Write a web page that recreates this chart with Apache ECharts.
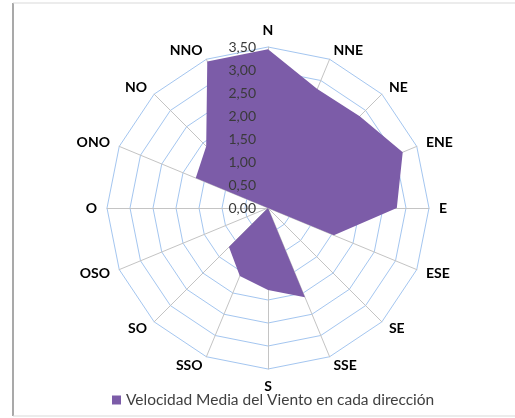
<!DOCTYPE html>
<html>
<head>
<meta charset="utf-8">
<script src="https://cdn.jsdelivr.net/npm/echarts@6/dist/echarts.min.js"></script>
<style>
html,body{margin:0;padding:0;background:#fff;}
#main{width:515px;height:418px;}
</style>
</head>
<body>
<div id="main"></div>
<script>
// direcciones en orden de la brújula (sentido horario desde N)
var direcciones = ["N","NNE","NE","ENE","E","ESE","SE","SSE","S","SSO","SO","OSO","O","ONO","NO","NNO"];
var velocidad = [3.45,2.80,2.82,3.17,2.80,1.55,0,2.10,1.78,1.60,1.20,0,0,1.70,1.90,3.45];
var serieNombre = "Velocidad Media del Viento en cada dirección";
var escalaMax = 3.5;

// el radar de echarts va en sentido antihorario, se invierte el orden
var orden = [0];
for(var i=direcciones.length-1;i>0;i--){ orden.push(i); }
var indicadores = [];
var indicadoresEtiq = [];
var valores = [];
for(var k of orden){
	indicadores.push({name:direcciones[k],min:0,max:escalaMax});
	indicadoresEtiq.push({name:'',min:0,max:escalaMax});
	valores.push(velocidad[k]);
}
indicadoresEtiq[0].axisLabel = {show:true};

var myChart = echarts.init(document.getElementById('main'));
var option = {
	backgroundColor:'#fff',
	textStyle:{fontFamily:'Lato, "Open Sans", sans-serif'},
	graphic:[
		{type:'line',shape:{x1:13,y1:3,x2:13,y2:416},style:{stroke:'#8c8c8c',lineWidth:1.5}},
		{type:'line',shape:{x1:13,y1:3,x2:515,y2:3},style:{stroke:'#d9d9d9',lineWidth:1}},
		{type:'line',shape:{x1:13,y1:416,x2:515,y2:416},style:{stroke:'#d9d9d9',lineWidth:1}}
	],
	legend:{
		bottom:5,
		left:107,
		icon:'rect',
		itemWidth:9,
		itemHeight:9,
		itemGap:5,
		textStyle:{color:'#404040',fontSize:15.5},
		data:[serieNombre]
	},
	radar:[{
		center:[268,208],
		radius:161,
		shape:'polygon',
		splitNumber:7,
		nameGap:10,
		axisName:{color:'#000',fontWeight:'bold',fontSize:14},
		splitLine:{lineStyle:{color:'#a4c6f0',width:1}},
		splitArea:{show:false},
		axisLine:{lineStyle:{color:'#c4c4c4',width:1}},
		axisLabel:{show:false},
		indicator:indicadores
	},{
		// solo las etiquetas del eje, por encima del área
		z:10,
		center:[268,208],
		radius:161,
		shape:'polygon',
		splitNumber:7,
		axisName:{show:false},
		splitLine:{show:false},
		splitArea:{show:false},
		axisLine:{show:false},
		axisTick:{show:false},
		axisLabel:{show:false,color:'#3a3a3a',fontSize:14,margin:12,
			formatter:function(v){return v.toFixed(2).replace('.',',');}},
		indicator:indicadoresEtiq
	}],
	series:[{
		name:serieNombre,
		type:'radar',
		radarIndex:0,
		symbol:'none',
		itemStyle:{color:'#7c5ca8'},
		lineStyle:{width:0},
		areaStyle:{color:'#7c5ca8',opacity:1},
		data:[{name:serieNombre,value:valores}]
	}]
};
myChart.setOption(option);
</script>
</body>
</html>
